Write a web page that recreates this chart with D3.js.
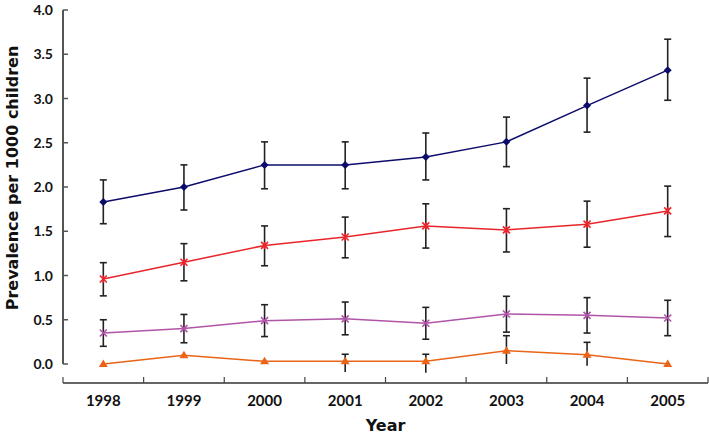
<!DOCTYPE html>
<html><head><meta charset="utf-8">
<script src="https://cdn.jsdelivr.net/npm/d3@7"></script>
<style>body{margin:0;background:#fff}svg{display:block}text{font-family:Lato,"Open Sans",sans-serif;font-weight:bold;fill:#111}text.title{font-family:"DejaVu Sans",sans-serif}</style>
</head><body>
<script>
const years = ["1998","1999","2000","2001","2002","2003","2004","2005"];
const yTicks = [0,0.5,1,1.5,2,2.5,3,3.5,4];

const blueVals = [1.83,2.00,2.25,2.25,2.34,2.51,2.92,3.32];
const blueLow  = [1.585,1.74,1.98,1.98,2.08,2.23,2.62,2.98];
const blueHigh = [2.08,2.25,2.51,2.51,2.61,2.79,3.23,3.67];

const redVals = [0.96,1.15,1.34,1.435,1.56,1.515,1.58,1.73];
const redLow  = [0.77,0.94,1.11,1.20,1.31,1.266,1.32,1.44];
const redHigh = [1.145,1.36,1.56,1.66,1.81,1.755,1.84,2.01];

const purpleVals = [0.35,0.40,0.49,0.51,0.46,0.565,0.55,0.52];
const purpleLow  = [0.20,0.24,0.31,0.33,0.28,0.36,0.35,0.32];
const purpleHigh = [0.50,0.56,0.67,0.70,0.64,0.765,0.75,0.72];

const orangeVals = [0.0,0.10,0.03,0.03,0.03,0.15,0.105,0.0];
const orangeLow  = [null,null,null,-0.09,-0.10,0.0,-0.02,null];
const orangeHigh = [null,null,null,0.11,0.11,0.32,0.245,null];

const W=709,H=435;
const svg=d3.select("body").append("svg").attr("width",W).attr("height",H);
const x=d3.scaleBand().domain(years).range([63,708]);
const y=d3.scaleLinear().domain([0,4]).range([364,10]);
const cx=d=>x(d)+x.bandwidth()/2;

// y axis
const ya=svg.append("g");
ya.append("line").attr("x1",63).attr("x2",63).attr("y1",y(4)).attr("y2",y(0)).attr("stroke","#555").attr("stroke-width",2);
yTicks.forEach(t=>{
  ya.append("line").attr("x1",63).attr("x2",68).attr("y1",y(t)).attr("y2",y(t)).attr("stroke","#555").attr("stroke-width",1.5);
  ya.append("text").attr("x",53).attr("y",y(t)).attr("dy","0.36em").attr("text-anchor","end").attr("font-size",14).text(d3.format(".1f")(t));
});
// x axis
const xa=svg.append("g");
xa.append("line").attr("x1",63).attr("x2",708).attr("y1",383).attr("y2",383).attr("stroke","#333").attr("stroke-width",1.5);
const bounds=years.map(d=>x(d)).concat([x.range()[1]]);
bounds.forEach(b=>xa.append("line").attr("x1",b).attr("x2",b).attr("y1",383).attr("y2",377).attr("stroke","#444").attr("stroke-width",1.2));
years.forEach(d=>xa.append("text").attr("x",cx(d)).attr("y",406).attr("text-anchor","middle").attr("font-size",15).text(d));

svg.append("text").attr("class","title").attr("x",385.5).attr("y",431).attr("text-anchor","middle").attr("font-size",16).text("Year");
svg.append("text").attr("class","title").attr("transform","translate(18,178) rotate(-90)").attr("text-anchor","middle").attr("font-size",16).text("Prevalence per 1000 children");

const series=[
 {vals:blueVals,low:blueLow,high:blueHigh,color:"#0c0c6a",marker:"diamond"},
 {vals:redVals,low:redLow,high:redHigh,color:"#e8252b",marker:"star"},
 {vals:purpleVals,low:purpleLow,high:purpleHigh,color:"#b054a8",marker:"x"},
 {vals:orangeVals,low:orangeLow,high:orangeHigh,color:"#ea6418",marker:"triangle"}
];
const line=d3.line().x((v,i)=>cx(years[i])).y(v=>y(v));
series.forEach(s=>{
  const g=svg.append("g");
  s.vals.forEach((v,i)=>{
    if(s.low[i]==null) return;
    const xx=cx(years[i]);
    g.append("line").attr("x1",xx).attr("x2",xx).attr("y1",y(s.low[i])).attr("y2",y(s.high[i])).attr("stroke","#222").attr("stroke-width",1.6);
    g.append("line").attr("x1",xx-3.5).attr("x2",xx+3.5).attr("y1",y(s.high[i])).attr("y2",y(s.high[i])).attr("stroke","#222").attr("stroke-width",1.6);
    if(s.low[i]>0) g.append("line").attr("x1",xx-3.5).attr("x2",xx+3.5).attr("y1",y(s.low[i])).attr("y2",y(s.low[i])).attr("stroke","#222").attr("stroke-width",1.6);
  });
  g.append("path").attr("d",line(s.vals)).attr("fill","none").attr("stroke",s.color).attr("stroke-width",1.5);
  s.vals.forEach((v,i)=>{
    const xx=cx(years[i]),yy=y(v);
    if(s.marker==="diamond"){
      g.append("path").attr("d",`M${xx},${yy-4}L${xx+4},${yy}L${xx},${yy+4}L${xx-4},${yy}Z`).attr("fill",s.color);
    } else if(s.marker==="triangle"){
      g.append("path").attr("d",`M${xx},${yy-4.5}L${xx+4.5},${yy+3}L${xx-4.5},${yy+3}Z`).attr("fill",s.color);
    } else {
      const r=3.5;
      g.append("path").attr("d",`M${xx-r},${yy-r}L${xx+r},${yy+r}M${xx-r},${yy+r}L${xx+r},${yy-r}`+(s.marker==="star"?`M${xx},${yy-r}L${xx},${yy+r}`:"")).attr("stroke",s.color).attr("stroke-width",1.6);
    }
  });
});
</script>
</body></html>
